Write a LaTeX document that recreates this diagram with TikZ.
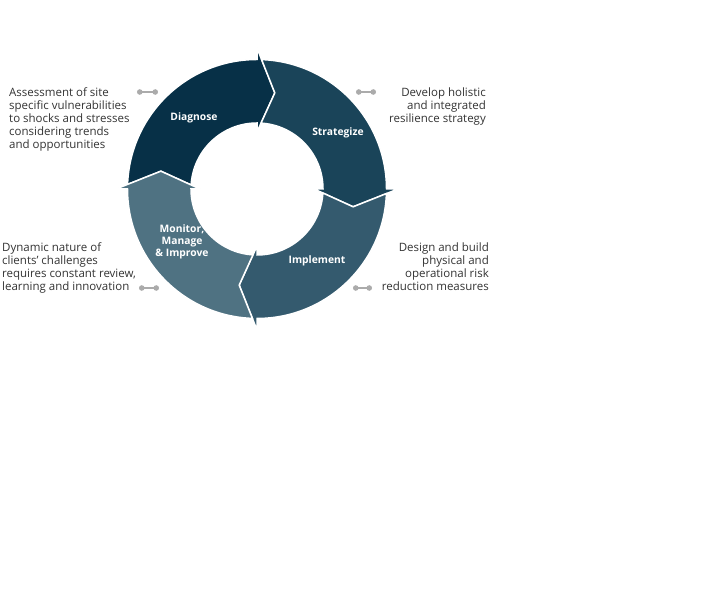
\documentclass[tikz,border=0pt]{standalone}
\usepackage{fontspec}
\setmainfont{Open Sans}
\usetikzlibrary{arrows.meta}
\definecolor{diag}{HTML}{073047}
\definecolor{estr}{HTML}{1A4459}
\definecolor{impl}{HTML}{345A6E}
\definecolor{moni}{HTML}{4F7282}
\definecolor{cinza}{HTML}{333333}
\definecolor{ponto}{HTML}{ABABAB}

\begin{document}
\begin{tikzpicture}[
		x=1pt, y=1pt,
		font=\fontsize{11.5}{13}\selectfont,
		fase/.style={draw=white, line width=1.5pt, line join=miter},
		rotulo/.style={text=white, font=\fontsize{10.3}{12}\selectfont\bfseries, align=center, inner sep=0pt},
		texto/.style={text=cinza, inner sep=0pt},
		ligacao/.style={{Circle[length=5.5pt]}-{Circle[length=5.5pt]}, draw=ponto, line width=1.2pt}
	]

	\useasboundingbox (0,0) rectangle (727,612);

	% anel em quatro fases (ponta e encaixe de cada fase)
	\begin{scope}[shift={(257,423)}]
		\path[fase, fill=diag] (177.97:129.5) arc[start angle=177.97, end angle=90, radius=129.5] -- (90:141) -- (79.5:97.75) -- (90:57) -- (90:66) arc[start angle=90, end angle=176.49, radius=66] -- (169.5:97.75) -- cycle;
		\path[fase, fill=estr] (87.97:129.5) arc[start angle=87.97, end angle=0, radius=129.5] -- (0:141) -- (-10.5:97.75) -- (0:57) -- (0:66) arc[start angle=0, end angle=86.49, radius=66] -- (79.5:97.75) -- cycle;
		\path[fase, fill=impl] (-2.03:129.5) arc[start angle=-2.03, end angle=-90, radius=129.5] -- (-90:141) -- (-100.5:97.75) -- (-90:57) -- (-90:66) arc[start angle=-90, end angle=-3.51, radius=66] -- (-10.5:97.75) -- cycle;
		\path[fase, fill=moni] (-92.03:129.5) arc[start angle=-92.03, end angle=-180, radius=129.5] -- (180:141) -- (169.5:97.75) -- (180:57) -- (180:66) arc[start angle=180, end angle=266.49, radius=66] -- (-100.5:97.75) -- cycle;
	\end{scope}

	\node[rotulo] (diagnose) at (194,494) {Diagnose};
	\node[rotulo] (strategize) at (338,479) {Strategize};
	\node[rotulo] (implement) at (317,351) {Implement};
	\node[rotulo] (monitor) at (182,370) {Monitor,\\Manage\\\& Improve};

	\node[texto, anchor=north west, align=left] (tdiag) at (9,524) {Assessment of site\\specific vulnerabilities\\to shocks and stresses\\considering trends\\and opportunities};
	\node[texto, anchor=north east, align=right] (testr) at (486,524) {Develop holistic\\and integrated\\resilience strategy};
	\node[texto, anchor=north west, align=left] (tmoni) at (2,369) {Dynamic nature of\\clients' challenges\\requires constant review,\\learning and innovation};
	\node[texto, anchor=north east, align=right] (timpl) at (489,369) {Design and build\\physical and\\operational risk\\reduction measures};

	\coordinate (ld1) at (137,520);
	\coordinate (ld2) at (158,520);
	\coordinate (le1) at (356,520);
	\coordinate (le2) at (376,520);
	\coordinate (lm1) at (139,324);
	\coordinate (lm2) at (159,324);
	\coordinate (li1) at (353,324);
	\coordinate (li2) at (372,324);

	\draw[ligacao] (ld1) -- (ld2);
	\draw[ligacao] (le1) -- (le2);
	\draw[ligacao] (lm1) -- (lm2);
	\draw[ligacao] (li1) -- (li2);
\end{tikzpicture}
\end{document}
